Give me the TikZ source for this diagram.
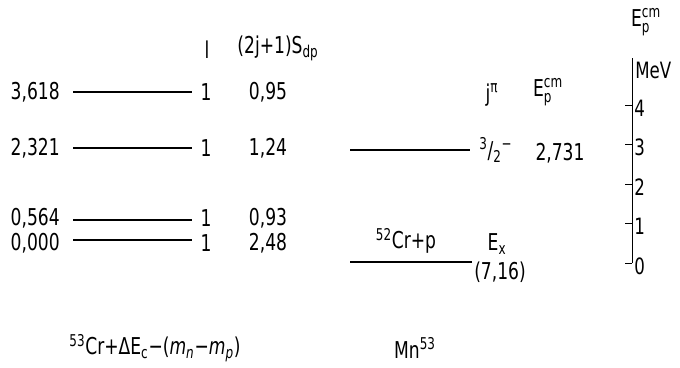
\documentclass[tikz,border=0pt]{standalone}
\usepackage{amsmath}
\usepackage{fontspec}
\setmainfont{DejaVu Sans Condensed}[FakeStretch=0.82]
\usetikzlibrary{positioning}
\tikzset{
  szint/.style={line width=1.5pt},
  cimke/.style={inner sep=0pt,font=\fontsize{16.5}{19}\selectfont},
  ertek/.style={cimke,anchor=east},
  tengely/.style={line width=0.7pt},
  oszt/.style={cimke,font=\fontsize{16}{19}\selectfont,anchor=west},
}
\newcommand{\Ecm}{E$^{\text{cm}}_{\text{p}}$}

\begin{document}
\begin{tikzpicture}[x=0.025cm,y=-0.025cm]
  \useasboundingbox (0,0) rectangle (680,368);
  % 53Cr nivok
  \foreach \nev/\y/\t/\e/\s in {a/92/92/3{,}618/0{,}95, b/148/148/2{,}321/1{,}24,
      c/220/218/0{,}564/0{,}93, d/240/243/0{,}000/2{,}48}{
    \coordinate (\nev1) at (73,\y); \coordinate (\nev2) at (192,\y);
    \node[ertek] (\nev e) at (60,\t) {\e};
    \node[cimke] (\nev l) at (206,\t) {1};
    \node[cimke] (\nev s) at (268,\t) {\s};
    \draw[szint] (\nev1) -- (\nev2);
  }
  \node[cimke] (fl) at (207,50) {l};
  \node[cimke] (fs) at (278,48) {(2j+1)S$_{\text{dp}}$};
  % Mn53 nivok
  \coordinate (r1) at (350,150); \coordinate (r2) at (470,150);
  \coordinate (p1) at (350,262); \coordinate (p2) at (472,262);
  \draw[szint] (r1) -- (r2);
  \draw[szint] (p1) -- (p2);
  \node[cimke,anchor=south] (cr) at (406,254) {\textsuperscript{52}Cr+p};
  \node[cimke] (jp) at (492,95) {j\textsuperscript{π}};
  \node[cimke] (ep) at (548,92) {\Ecm};
  \node[cimke,anchor=west] (jr) at (479,150) {\textsuperscript{3}/\textsubscript{2}\textsuperscript{−}};
  \node[cimke] (er) at (560,153) {2,731};
  \node[cimke] (ex) at (497,244) {E$_{\text{x}}$};
  \node[cimke] (ez) at (500,272) {(7,16)};
  % skala
  \coordinate (t0) at (632,263); \coordinate (t1) at (632,58);
  \draw[tengely] (t0) -- (t1);
  \foreach \k in {0,...,4}{
    \draw[tengely] (625,263-\k*39.5) -- (632,263-\k*39.5)
      node[oszt] (o\k) at (634,266-\k*39.5) {\k};
  }
  \node[oszt] (mev) at (635,70) {MeV};
  \node[cimke] (et) at (646,22) {\Ecm};
  % alsó feliratok
  \node[cimke] (bal) at (155,348) {\textsuperscript{53}Cr+ΔE$_{\text{c}}$−(\textit{m}\textsubscript{\textit{n}}−\textit{m}\textsubscript{\textit{p}})};
  \node[cimke] (jobb) at (415,348) {Mn\textsuperscript{53}};
\end{tikzpicture}
\end{document}
